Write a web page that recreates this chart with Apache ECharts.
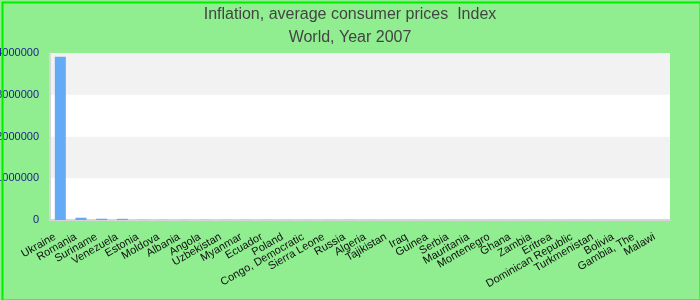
<!DOCTYPE html>
<html>
<head>
<meta charset="utf-8">
<script src="https://cdn.jsdelivr.net/npm/echarts@6/dist/echarts.min.js"></script>
<style>
html,body{margin:0;padding:0;background:#90ee90;}
#c{width:700px;height:300px;}
</style>
</head>
<body>
<div id="c"></div>
<script>
var titleLines = ["Inflation, average consumer prices  Index", "World, Year 2007"];
var categories = ["Ukraine","Romania","Suriname","Venezuela","Estonia","Moldova","Albania","Angola","Uzbekistan","Myanmar","Ecuador","Poland","Congo, Democratic","Sierra Leone","Russia","Algeria","Tajikistan","Iraq","Guinea","Serbia","Mauritania","Montenegro","Ghana","Zambia","Eritrea","Dominican Republic","Turkmenistan","Bolivia","Gambia, The","Malawi"];
var values = [3911000,55000,31000,29000,4000,3500,3000,2800,2500,2300,2100,1900,1800,1700,1600,1500,1400,1300,1200,1150,1100,1050,1000,950,900,850,800,750,700,650];
var yMin = 0, yMax = 4000000, yInterval = 1000000;

var chart = echarts.init(document.getElementById('c'), null, {renderer:'canvas'});
chart.setOption({
  backgroundColor: '#90ee90',
  animation: false,
  title: {
    text: titleLines.join('\n'),
    left: 'center',
    top: -2,
    textStyle: {fontFamily: 'Liberation Sans, Arial, sans-serif', fontSize: 16, fontWeight: 'normal', color: '#444444', lineHeight: 23}
  },
  graphic: [{
    type: 'rect', left: 0, top: 0, silent: true, z: 100,
    shape: {x: 1, y: 1, width: 698, height: 298},
    style: {fill: 'none', stroke: '#00ee00', lineWidth: 2}
  }],
  grid: {left: 50, right: 30, top: 53, bottom: 80, backgroundColor: '#ffffff', show: true, borderWidth: 0, containLabel: false, outerBoundsMode: 'none'},
  xAxis: {
    type: 'category',
    data: categories,
    axisLine: {show: true, lineStyle: {color: '#d6d6d6', width: 2}},
    axisTick: {show: false},
    axisLabel: {interval: 0, rotate: 30, fontSize: 11, color: '#111111', fontFamily: 'Liberation Sans, Arial, sans-serif', margin: 13, padding: [0, 6, 0, 0]}
  },
  yAxis: {
    type: 'value',
    min: yMin, max: yMax, interval: yInterval,
    axisLine: {show: true, lineStyle: {color: '#d6d6d6', width: 2}},
    axisTick: {show: false},
    splitLine: {show: false},
    splitArea: {show: true, areaStyle: {color: ['#ffffff', '#f2f2f2']}},
    axisLabel: {fontSize: 11, color: '#1a1a8c', fontFamily: 'Liberation Sans, Arial, sans-serif', margin: 11, formatter: function (v) { return String(v); }}
  },
  series: [{
    type: 'bar',
    data: values,
    barWidth: 11,
    itemStyle: {color: '#64aaf5'}
  }]
});
</script>
</body>
</html>
